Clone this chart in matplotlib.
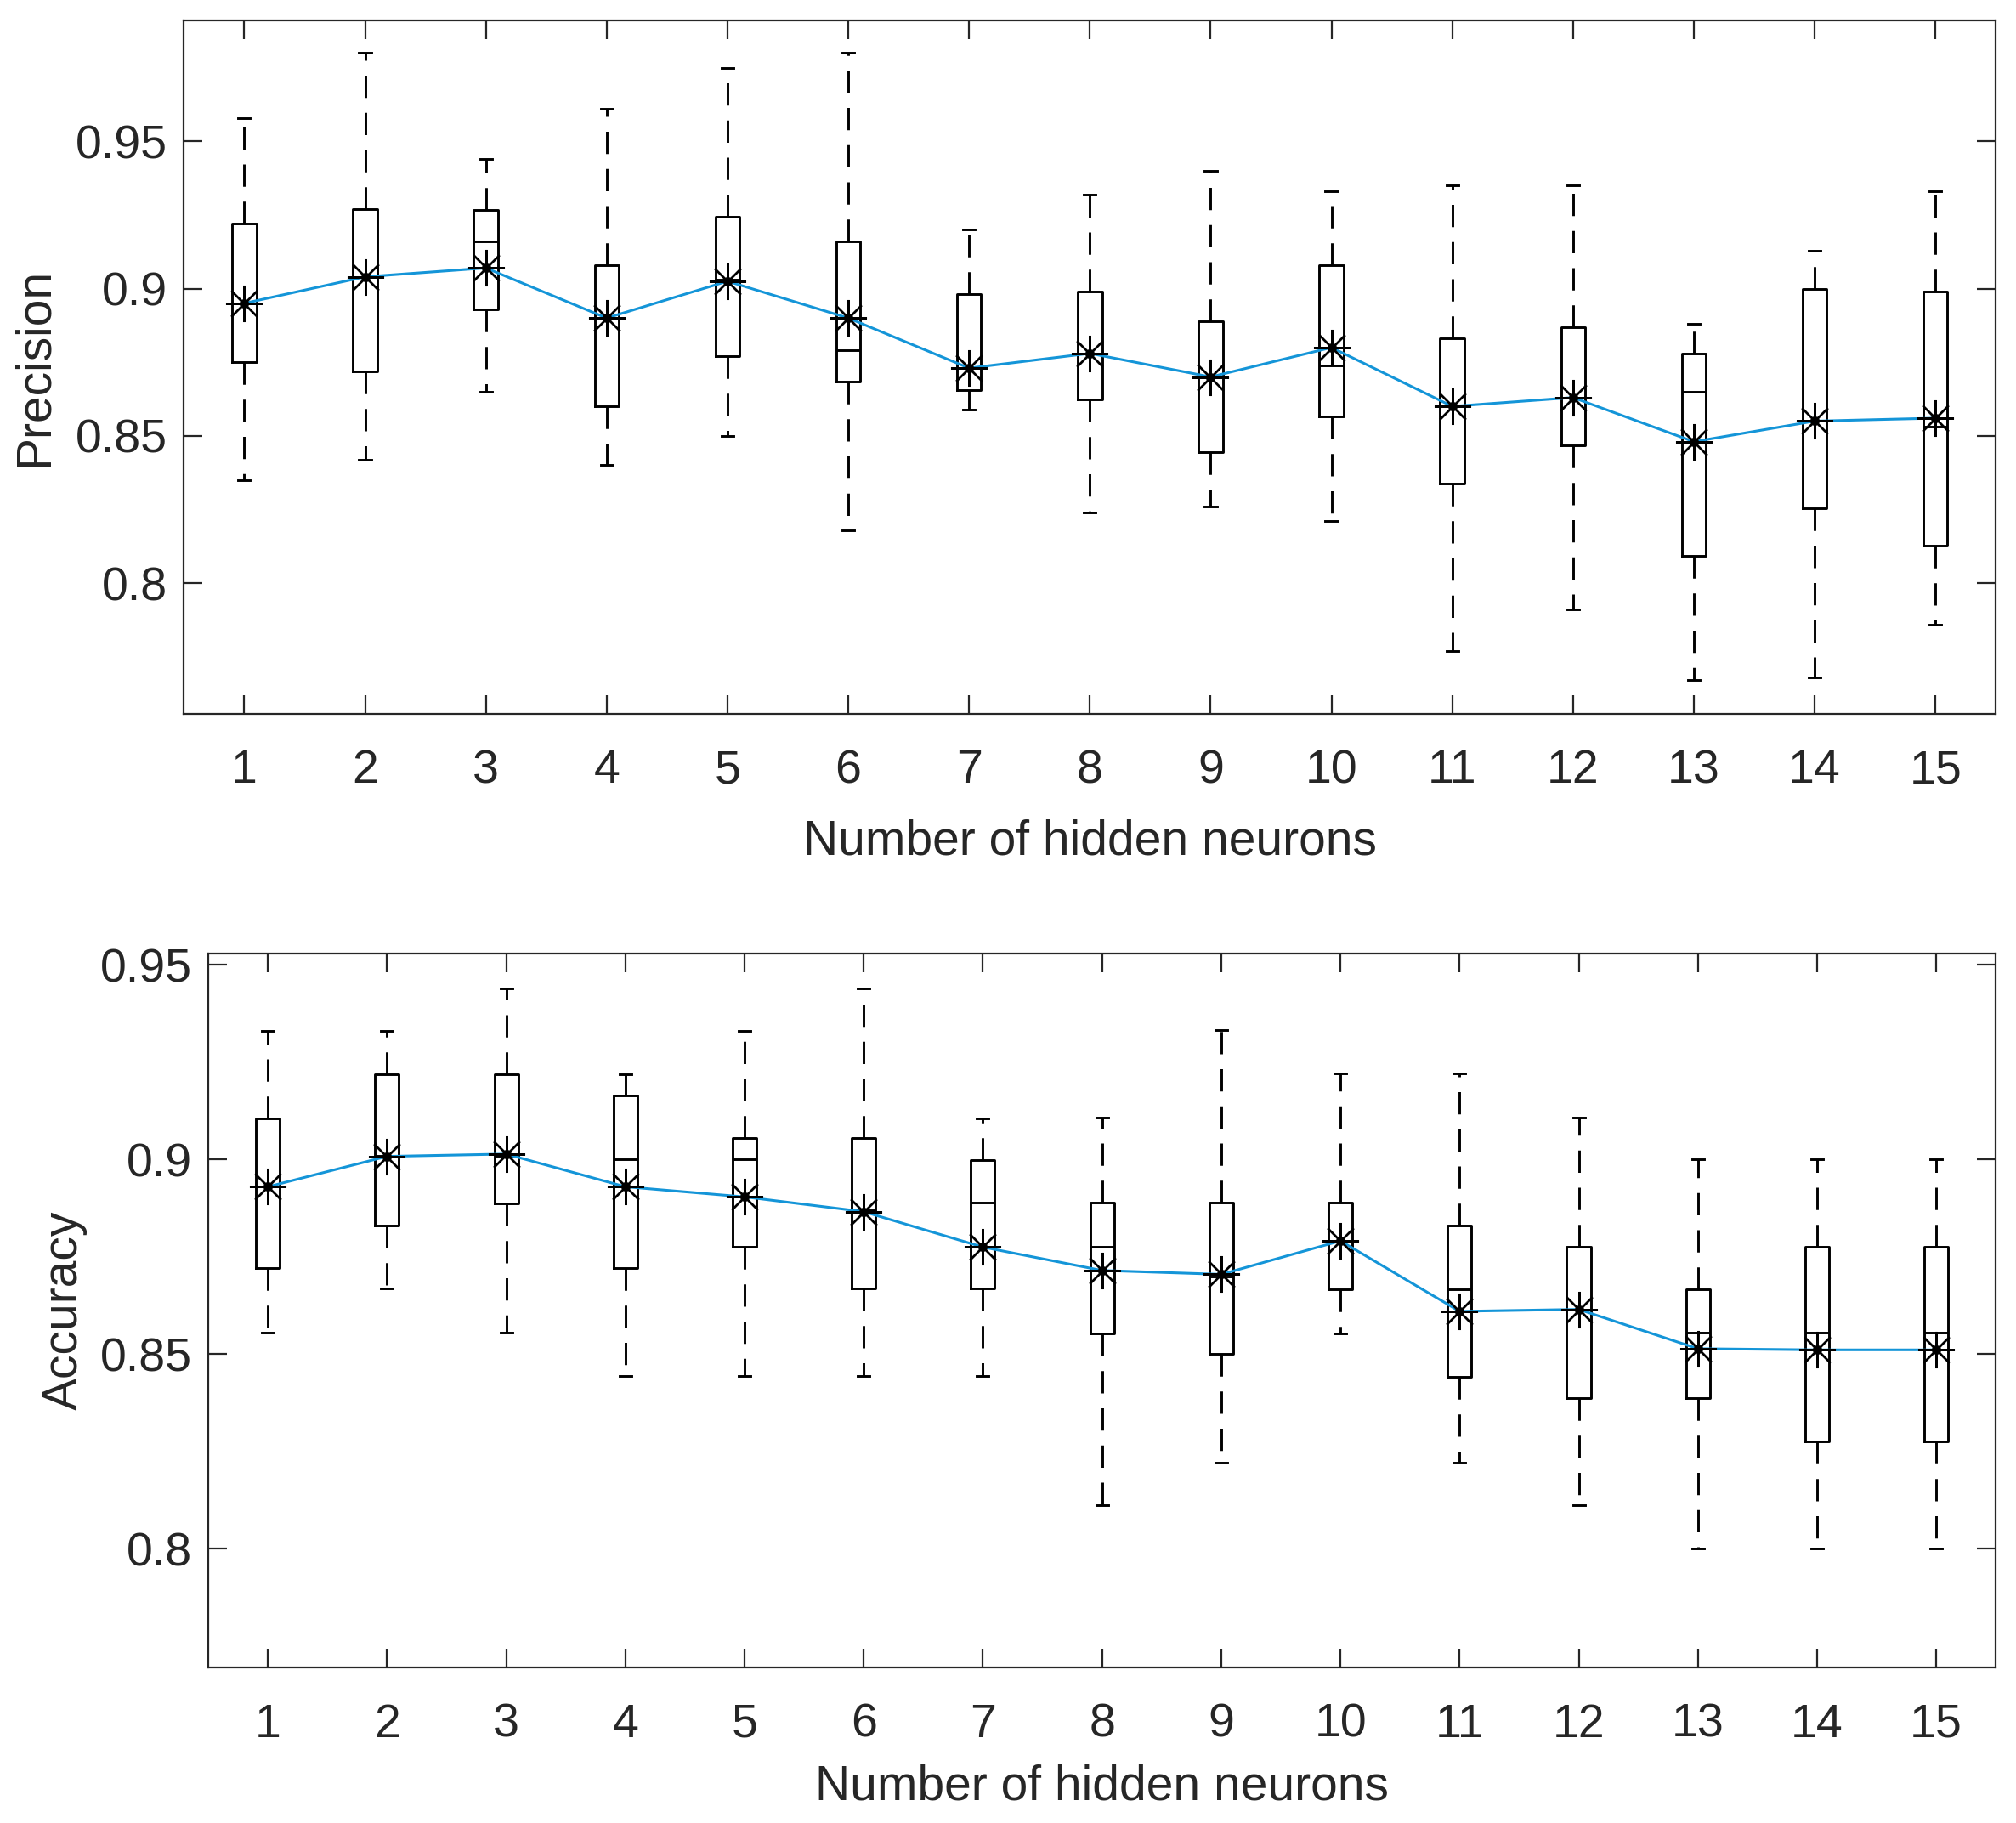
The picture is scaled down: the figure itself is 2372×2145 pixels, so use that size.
import matplotlib
matplotlib.use("Agg")
import matplotlib.pyplot as plt

plt.rcParams['font.family'] = ['Liberation Sans', 'DejaVu Sans']

neurons = list(range(1, 16))

# Precision (top panel)
prec_whislo = [0.835, 0.842, 0.865, 0.840, 0.850, 0.818, 0.859, 0.824, 0.826, 0.821, 0.777, 0.791, 0.767, 0.768, 0.786]
prec_q1 = [0.875, 0.872, 0.893, 0.860, 0.877, 0.8685, 0.8656, 0.8624, 0.8444, 0.8566, 0.8338, 0.8469, 0.8093, 0.8253, 0.8126]
prec_med = [0.895, 0.904, 0.916, 0.890, 0.903, 0.879, 0.873, 0.878, 0.870, 0.874, 0.860, 0.863, 0.865, 0.855, 0.853]
prec_q3 = [0.922, 0.927, 0.9266, 0.908, 0.9245, 0.916, 0.898, 0.899, 0.889, 0.908, 0.883, 0.887, 0.878, 0.900, 0.899]
prec_whishi = [0.958, 0.980, 0.944, 0.961, 0.975, 0.980, 0.920, 0.932, 0.940, 0.933, 0.935, 0.935, 0.888, 0.913, 0.933]
prec_mean = [0.895, 0.904, 0.907, 0.890, 0.9025, 0.890, 0.873, 0.878, 0.870, 0.880, 0.860, 0.863, 0.848, 0.855, 0.856]

# Accuracy (bottom panel)
acc_whislo = [0.8555, 0.8669, 0.8555, 0.8444, 0.8444, 0.8444, 0.8444, 0.8111, 0.8222, 0.8554, 0.8222, 0.8111, 0.800, 0.800, 0.800]
acc_q1 = [0.8722, 0.8831, 0.8888, 0.8722, 0.8775, 0.8669, 0.8669, 0.8554, 0.8501, 0.8667, 0.8441, 0.8388, 0.8388, 0.8276, 0.8276]
acc_med = [0.893, 0.901, 0.901, 0.900, 0.900, 0.887, 0.889, 0.8775, 0.870, 0.879, 0.8667, 0.8615, 0.8555, 0.8555, 0.8555]
acc_q3 = [0.9106, 0.9219, 0.9219, 0.9164, 0.9055, 0.9055, 0.8998, 0.8889, 0.8889, 0.8889, 0.8831, 0.8775, 0.8667, 0.8775, 0.8775]
acc_whishi = [0.9331, 0.9331, 0.9439, 0.9219, 0.9331, 0.9439, 0.9106, 0.9107, 0.9332, 0.9221, 0.9221, 0.9107, 0.900, 0.900, 0.900]
acc_mean = [0.893, 0.9008, 0.9014, 0.893, 0.8904, 0.8866, 0.8775, 0.8715, 0.8705, 0.8791, 0.861, 0.8615, 0.8514, 0.8511, 0.8511]

TXT = '#262626'
BLUE = '#1495d8'


def draw_panel(ax, whislo, q1, med, q3, whishi, mean, ylabel, ylim, yticks, ytl):
    stats = []
    for i in range(len(neurons)):
        stats.append(dict(whislo=whislo[i], q1=q1[i], med=med[i], q3=q3[i],
                          whishi=whishi[i], fliers=[]))
    ax.bxp(stats, positions=neurons, widths=0.2, showfliers=False,
           boxprops=dict(color='black', linewidth=2.1),
           medianprops=dict(color='black', linewidth=2.1),
           whiskerprops=dict(color='black', linewidth=2.1, linestyle=(0, (9, 6))),
           capprops=dict(color='black', linewidth=2.1),
           capwidths=0.1, manage_ticks=False)
    ax.plot(neurons, mean, color=BLUE, linewidth=2.2, zorder=3)
    ax.plot(neurons, mean, linestyle='none', marker=(8, 2, 0), markersize=31,
            markeredgecolor='black', markeredgewidth=1.7, zorder=4)
    ax.plot(neurons, mean, linestyle='none', marker='o', markersize=7,
            color='black', zorder=5)
    ax.set_xlim(0.5, 15.5)
    ax.set_ylim(*ylim)
    ax.set_xticks(neurons)
    ax.set_xticklabels([str(n) for n in neurons])
    ax.set_yticks(yticks)
    ax.set_yticklabels(ytl)
    ax.tick_params(direction='in', length=16, width=1.6, colors=TXT,
                   labelsize=40, top=True, right=True)
    ax.tick_params(axis='x', pad=30)
    ax.tick_params(axis='y', pad=14)
    for s in ax.spines.values():
        s.set_color(TXT)
        s.set_linewidth(1.6)
    ax.set_xlabel('Number of hidden neurons', fontsize=41, color=TXT)
    ax.set_ylabel(ylabel, fontsize=41, color=TXT)


fig = plt.figure(figsize=(23.72, 21.45), dpi=100)
ax1 = fig.add_axes([0.0912, 0.6086, 0.8988, 0.3801])
ax2 = fig.add_axes([0.1033, 0.0853, 0.8867, 0.3914])

draw_panel(ax1, prec_whislo, prec_q1, prec_med, prec_q3, prec_whishi, prec_mean,
           'Precision', (0.7557, 0.991), [0.8, 0.85, 0.9, 0.95],
           ['0.8', '0.85', '0.9', '0.95'])
draw_panel(ax2, acc_whislo, acc_q1, acc_med, acc_q3, acc_whishi, acc_mean,
           'Accuracy', (0.7695, 0.9528), [0.8, 0.85, 0.9, 0.95],
           ['0.8', '0.85', '0.9', '0.95'])

ax1.xaxis.set_label_coords(0.5, -0.152)
ax1.yaxis.set_label_coords(-0.0696, 0.5)
ax2.xaxis.set_label_coords(0.5, -0.135)
ax2.yaxis.set_label_coords(-0.0676, 0.5)

fig.savefig('out.png', dpi=100)
